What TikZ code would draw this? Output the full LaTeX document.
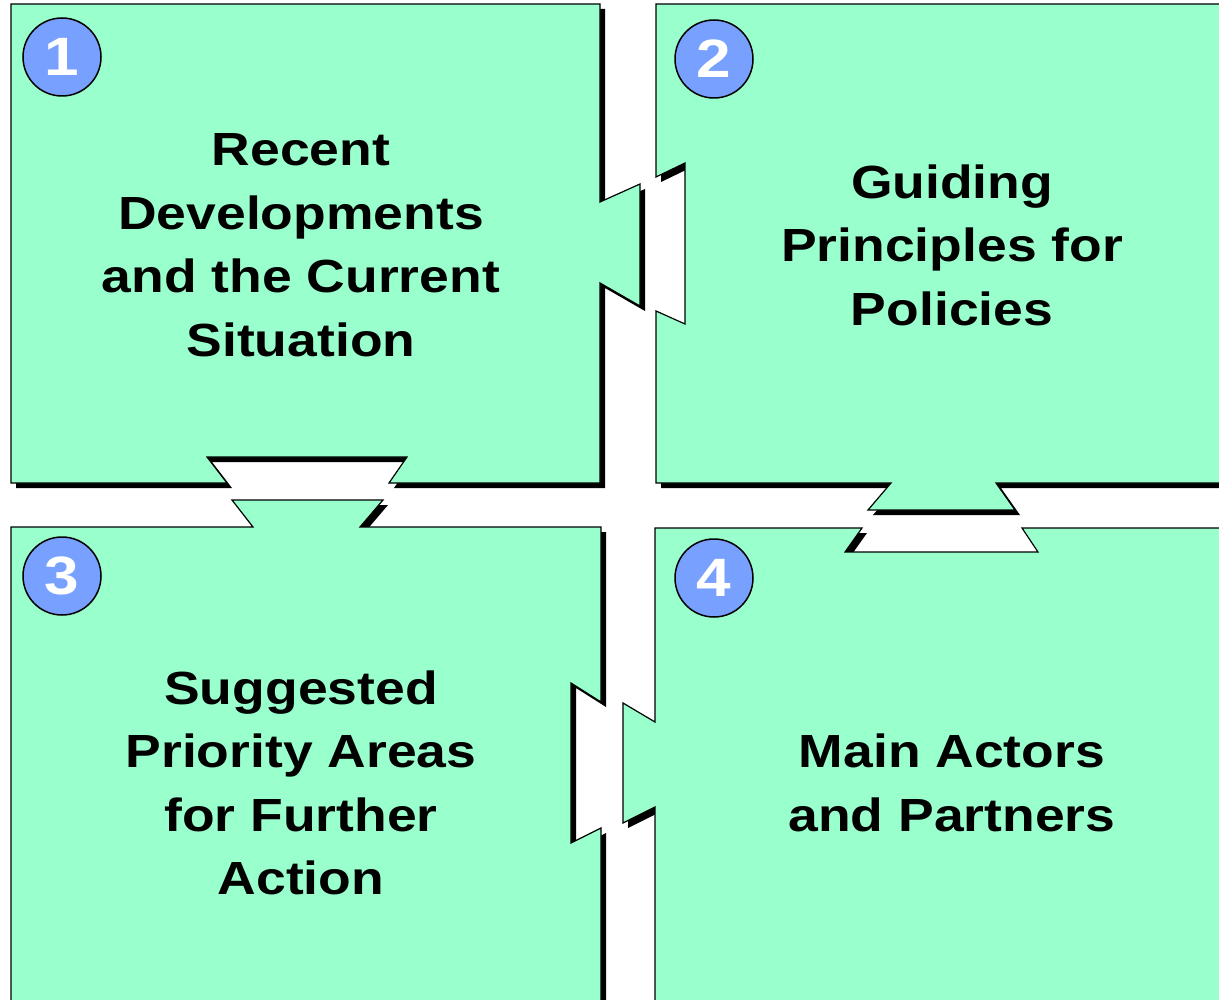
\documentclass[tikz,border=0pt]{standalone}
\usepackage{fontspec}
\setmainfont{Liberation Sans}[FakeStretch=1.15]
\usetikzlibrary{shadows}

\begin{document}
\begin{tikzpicture}[x=1pt, y=-1pt, % pixel units, y going down
    piece/.style={fill=piecegreen, draw=black, line width=1.2pt,
        drop shadow={shadow xshift=5pt, shadow yshift=-5pt, opacity=1, fill=black}},
    badge/.style={circle, draw=black, line width=1.5pt, fill=badgeblue,
        minimum size=78pt, inner sep=0pt, text=white,
        font=\fontsize{54}{54}\selectfont\bfseries},
    piecetext/.style={align=center, font=\fontsize{46.5}{63.5}\selectfont\bfseries}]
            % Define colors
            \definecolor{piecegreen}{RGB}{153,255,204}
            \definecolor{badgeblue}{RGB}{119,160,255}

            \clip (0,0) rectangle (1219,1000);

            % Piece 1 (tab on the right, notch at the bottom)
            \draw[piece] (11,4) -- (600,4) -- (600,202) -- (640,184) -- (640,306) -- (600,283)
                -- (600,483) -- (389,483) -- (407,457) -- (207,457) -- (227,483) -- (11,483) -- cycle;

            % Piece 2 (notch on the left, tab at the bottom)
            \draw[piece] (656,4) -- (1240,4) -- (1240,483) -- (996,483) -- (1015,510) -- (868,510)
                -- (891,483) -- (656,483) -- (656,311) -- (685,324) -- (685,163) -- (656,177) -- cycle;

            % Piece 3 (tab at the top, notch on the right)
            \draw[piece] (11,527) -- (253,527) -- (232,500) -- (383,500) -- (360,527) -- (601,527)
                -- (601,702) -- (571,683) -- (571,843) -- (601,828) -- (601,1020) -- (11,1020) -- cycle;

            % Piece 4 (notch at the top, tab on the left)
            \draw[piece] (655,528) -- (862,528) -- (845,552) -- (1038,552) -- (1022,528) -- (1240,528)
                -- (1240,1020) -- (655,1020) -- (655,807) -- (623,823) -- (623,703) -- (655,722) -- cycle;

            % Numbered circles
            \node[badge] (n1) at (62,57) {1};
            \node[badge] (n2) at (714,59) {2};
            \node[badge] (n3) at (62,576) {3};
            \node[badge] (n4) at (714,578) {4};

            % Texts of the pieces
            \node[piecetext] (t1) at (301,245) {Recent\\Developments\\and the Current\\Situation};
            \node[piecetext] (t2) at (952,245) {Guiding\\Principles for\\Policies};
            \node[piecetext] (t3) at (301,783) {Suggested\\Priority Areas\\for Further\\Action};
            \node[piecetext] (t4) at (952,783) {Main Actors\\and Partners};

        \end{tikzpicture}
\end{document}
